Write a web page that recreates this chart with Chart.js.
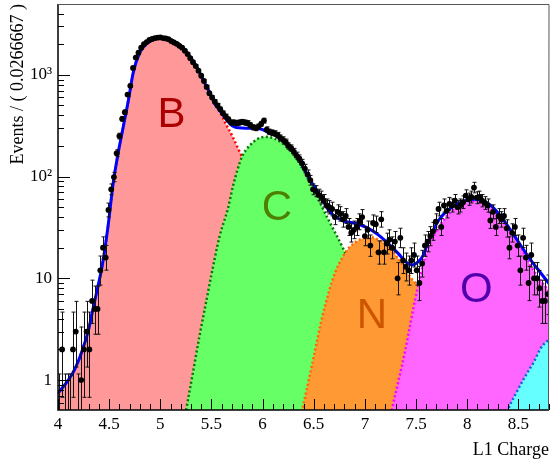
<!DOCTYPE html>
<html>
<head>
<meta charset="utf-8">
<script src="https://cdn.jsdelivr.net/npm/chart.js@4.4.0/dist/chart.umd.min.js"></script>
<style>
  html, body { margin: 0; padding: 0; background: #fff; }
</style>
</head>
<body>
<canvas id="chart" width="553" height="461"></canvas>
<script>
// binned data: 180 bins of width 0.0266667 from 4 to 8.8 (counts)
const binLo = 4.0;
const binW = 0.0266667;
const counts = [
  0, 2, 0, 0, 0, 2, 3, 0, 1, 2, 3, 2, 6, 5, 5, 12, 20, 16, 47, 75,
  99, 170, 250, 370, 430, 640, 780, 1170, 1480, 1650, 1850, 2000, 2100, 2200, 2250, 2300, 2320, 2340, 2300, 2280,
  2240, 2150, 2080, 2020, 1930, 1850, 1730, 1600, 1460, 1330, 1220, 1100, 980, 870, 760, 660, 600, 545, 500, 460,
  420, 390, 365, 340, 340, 335, 340, 345, 340, 335, 320, 305, 300, 310, 330, 355, 290, 275, 270, 265,
  255, 240, 230, 218, 200, 190, 175, 160, 150, 135, 120, 105, 92, 75, 72, 66, 63, 58, 52, 50,
  48, 40, 45, 43, 38, 41, 32, 28, 30, 32, 36, 40, 26, 30, 21, 35, 34, 18, 38, 18,
  22, 24, 20, 23, 10, 25, 15, 13, 12, 15, 17, 12, 9, 14, 21, 23, 26, 29, 36, 48,
  32, 52, 46, 54, 52, 58, 50, 52, 56, 65, 60, 63, 78, 62, 63, 58, 55, 52, 37, 45,
  32, 41, 38, 41, 31, 20, 28, 32, 21, 12, 25, 16, 9, 17, 10, 10, 8, 6, 6, 7
];
const binX = counts.map((_, i) => binLo + (i + 0.5) * binW);

// total fit (blue)
const fitX = [4.0, 4.1, 4.15, 4.2, 4.25, 4.3, 4.34, 4.39, 4.43, 4.49, 4.54, 4.59, 4.64, 4.69, 4.735, 4.8, 4.85, 4.9, 5.0, 5.09,
  5.15, 5.22, 5.28, 5.35, 5.4, 5.45, 5.48, 5.53, 5.58, 5.63, 5.68, 5.72, 5.77, 5.85, 5.97, 6.06, 6.16, 6.26, 6.36, 6.45,
  6.55, 6.65, 6.72, 6.78, 6.94, 7.07, 7.2, 7.33, 7.4, 7.46, 7.52, 7.57, 7.62, 7.72, 7.85, 7.98, 8.076, 8.21, 8.335, 8.47,
  8.6, 8.725, 8.8];
const fitY = [0.74, 1.0, 1.2, 1.55, 2.14, 3.16, 4.9, 8.3, 12.9, 33, 87, 174, 316, 575, 1047, 1660, 1950, 2140, 2320, 2240,
  2090, 1860, 1550, 1230, 977, 776, 676, 525, 447, 380, 331, 309, 302, 299, 295, 272, 243, 195, 144, 98,
  68, 46, 40, 37, 34, 29.5, 23.4, 17.4, 14.5, 13.5, 14.5, 16.8, 22.9, 37, 50, 58, 60, 54, 40, 25.4,
  16.2, 11.1, 8.9];

// components
const bX = [4.0, 4.1, 4.15, 4.2, 4.25, 4.3, 4.34, 4.39, 4.43, 4.49, 4.54, 4.59, 4.64, 4.69, 4.735, 4.8, 4.85, 4.9, 5.0, 5.09,
  5.15, 5.22, 5.28, 5.35, 5.4, 5.45, 5.5, 5.55, 5.6, 5.64, 5.7, 5.77, 5.8, 5.9, 6.0, 6.1, 6.2, 6.3, 6.5, 6.7];
const bY = [0.74, 1.0, 1.2, 1.55, 2.14, 3.16, 4.9, 8.3, 12.9, 33, 87, 174, 316, 575, 1047, 1660, 1950, 2140, 2320, 2240,
  2090, 1860, 1550, 1230, 977, 776, 610, 500, 400, 330, 255, 180, 155, 95, 56, 30, 15, 7, 1.5, 0.3];

const cX = [5.2, 5.253, 5.32, 5.383, 5.45, 5.512, 5.58, 5.66, 5.71, 5.756, 5.8, 5.87, 5.95, 6.03, 6.1, 6.2, 6.3, 6.4, 6.5, 6.583,
  6.68, 6.78, 6.9, 7.0, 7.1, 7.2, 7.3, 7.4];
const cY = [0.25, 0.51, 1.2, 2.7, 6.0, 12.5, 26, 48, 80, 118, 158, 200, 234, 246, 240, 210, 165, 118, 78, 50,
  32, 20.4, 11, 6, 3, 1.5, 0.7, 0.3];

const nX = [6.3, 6.389, 6.5, 6.583, 6.65, 6.71, 6.78, 6.845, 6.95, 7.05, 7.15, 7.23, 7.33, 7.46, 7.53, 7.6, 7.7, 7.8, 7.9, 8.0];
const nY = [0.22, 0.52, 1.7, 4.2, 7.5, 11.5, 16, 20, 24, 25.4, 23.5, 20.5, 15.5, 9.8, 8.2, 6, 3.5, 2, 1, 0.5];

const oX = [7.2, 7.265, 7.33, 7.395, 7.45, 7.49, 7.525, 7.57, 7.62, 7.72, 7.85, 7.95, 8.05, 8.15, 8.27, 8.35, 8.434, 8.52, 8.6, 8.7,
  8.8, 8.9];
const oY = [0.25, 0.52, 1.0, 1.97, 3.8, 6.1, 8.9, 14, 20, 31.7, 46, 54, 58, 56, 46, 38, 29, 21, 14.5, 10,
  7.5, 5.5];

const fX = [8.3, 8.4, 8.48, 8.563, 8.65, 8.725, 8.82, 8.9];
const fY = [0.22, 0.51, 0.75, 1.07, 1.5, 2.1, 2.6, 3.0];

const xTicks = [4, 4.5, 5, 5.5, 6, 6.5, 7, 7.5, 8, 8.5];
const yTicks = [1, 10, 100, 1000];
const yTickLabels = ['1', '10', '10²', '10³'];

// component labels, placed in data coordinates
const letters = [
  { text: 'B', x: 5.11, y: 400, color: '#aa0000' },
  { text: 'C', x: 6.14, y: 49, color: '#4d8000' },
  { text: 'N', x: 7.07, y: 4.2, color: '#cc5500' },
  { text: 'O', x: 8.09, y: 7.6, color: '#5000aa' }
];

const serif = 'Liberation Serif';

function component(xs, ys, fill, line, order) {
  return {
    data: xs.map((x, i) => ({ x: x, y: ys[i] })),
    backgroundColor: fill,
    borderColor: line,
    borderWidth: 2.5,
    borderDash: [2, 2.5],
    fill: 'start',
    pointRadius: 0,
    cubicInterpolationMode: 'monotone',
    order: order
  };
}

const datasets = [
  {
    type: 'scatter',
    data: counts.map((n, i) => ({ x: binX[i], y: n > 0 ? n : null })),
    backgroundColor: '#000',
    borderWidth: 0,
    pointRadius: 2.9,
    order: 1
  },
  {
    data: fitX.map((x, i) => ({ x: x, y: fitY[i] })),
    borderColor: '#0000ff',
    borderWidth: 3,
    fill: false,
    pointRadius: 0,
    cubicInterpolationMode: 'monotone',
    order: 2
  },
  component(fX, fY, '#66ffff', '#1060e0', 3),
  component(oX, oY, '#ff66ff', '#ff00ff', 4),
  component(nX, nY, '#ff9933', '#ff6600', 5),
  component(cX, cY, '#66ff66', '#007700', 6),
  component(bX, bY, '#ff9999', '#ff0000', 7)
];

// Poisson-like error bars drawn under the markers
const errorBars = {
  id: 'errorBars',
  beforeDatasetDraw(chart, args) {
    if (args.index !== 0) return;
    const { ctx, chartArea: a, scales: { x, y } } = chart;
    ctx.save();
    ctx.beginPath();
    ctx.rect(a.left, a.top, a.right - a.left, a.bottom - a.top);
    ctx.clip();
    ctx.strokeStyle = '#111';
    ctx.lineWidth = 1;
    ctx.beginPath();
    counts.forEach((n, i) => {
      const hi = n === 0 ? 1.1478 : n + Math.sqrt(n + 0.75) + 1;
      const lo = n === 0 ? 0 : n - Math.sqrt(n - 0.25);
      const px = Math.round(x.getPixelForValue(binX[i])) + 0.5;
      const pHi = y.getPixelForValue(hi);
      const pLo = lo > 0 ? y.getPixelForValue(lo) : a.bottom + 5;
      ctx.moveTo(px, pLo);
      ctx.lineTo(px, pHi);
      ctx.moveTo(px - 2, pHi);
      ctx.lineTo(px + 2, pHi);
      ctx.moveTo(px - 2, pLo);
      ctx.lineTo(px + 2, pLo);
    });
    ctx.stroke();
    ctx.restore();
  }
};

// ROOT style frame, inner ticks and component letters
const frame = {
  id: 'frame',
  afterDatasetsDraw(chart) {
    const { ctx, chartArea: a, scales: { x, y } } = chart;
    ctx.save();
    ctx.font = '42px "Liberation Sans"';
    ctx.textAlign = 'center';
    ctx.textBaseline = 'middle';
    letters.forEach(l => {
      ctx.fillStyle = l.color;
      ctx.fillText(l.text, x.getPixelForValue(l.x), y.getPixelForValue(l.y));
    });

    ctx.strokeStyle = '#000';
    ctx.lineWidth = 1;
    ctx.beginPath();
    for (let k = 40; k <= 88; k++) {
      const px = Math.round(x.getPixelForValue(k / 10)) + 0.5;
      const len = k % 5 === 0 ? 11 : 6;
      ctx.moveTo(px, a.bottom);
      ctx.lineTo(px, a.bottom - len);
    }
    for (let d = -1; d <= 3; d++) {
      for (let m = 1; m <= 9; m++) {
        const v = m * Math.pow(10, d);
        if (v < y.min || v > y.max) continue;
        const py = Math.round(y.getPixelForValue(v)) + 0.5;
        const len = m === 1 ? 12 : 6;
        ctx.moveTo(a.left, py);
        ctx.lineTo(a.left + len, py);
      }
    }
    ctx.stroke();

    ctx.lineWidth = 1.5;
    ctx.beginPath();
    ctx.moveTo(a.left, a.top);
    ctx.lineTo(a.left, a.bottom);
    ctx.lineTo(a.right, a.bottom);
    ctx.stroke();
    ctx.strokeStyle = '#555';
    ctx.lineWidth = 1;
    ctx.beginPath();
    ctx.moveTo(a.left, a.top + 0.5);
    ctx.lineTo(a.right, a.top + 0.5);
    ctx.lineTo(a.right - 0.5, a.bottom);
    ctx.stroke();
    ctx.restore();
  }
};

new Chart(document.getElementById('chart'), {
  type: 'line',
  data: { datasets: datasets },
  options: {
    responsive: false,
    animation: false,
    devicePixelRatio: 1,
    layout: { padding: { top: 3, right: 1, left: 0, bottom: 0 } },
    plugins: { legend: { display: false }, tooltip: { enabled: false } },
    scales: {
      x: {
        type: 'linear',
        min: 4,
        max: 8.8,
        grid: { display: false, drawTicks: false },
        border: { display: false },
        afterBuildTicks: s => { s.ticks = xTicks.map(v => ({ value: v })); },
        afterFit: s => { s.height = 51; s.paddingLeft = 0; s.paddingRight = 0; },
        ticks: {
          font: { family: serif, size: 17 },
          color: '#000',
          padding: 4,
          maxRotation: 0,
          autoSkip: false,
          callback: v => String(v)
        },
        title: {
          display: true,
          text: 'L1 Charge',
          align: 'end',
          color: '#000',
          font: { family: serif, size: 18 },
          padding: { top: 5, bottom: 0 }
        }
      },
      y: {
        type: 'logarithmic',
        min: 0.508,
        max: 4970,
        grid: { display: false, drawTicks: false },
        border: { display: false },
        afterBuildTicks: s => { s.ticks = yTicks.map(v => ({ value: v })); },
        afterFit: s => { s.width = 58; s.paddingTop = 0; s.paddingBottom = 0; },
        ticks: {
          font: { family: serif, size: 17 },
          color: '#000',
          padding: 6,
          autoSkip: false,
          callback: v => yTickLabels[yTicks.indexOf(v)]
        },
        title: {
          display: true,
          text: 'Events / ( 0.0266667 )',
          align: 'end',
          color: '#000',
          font: { family: serif, size: 18 },
          padding: { top: 7, bottom: 0 }
        }
      }
    }
  },
  plugins: [errorBars, frame]
});
</script>
</body>
</html>
